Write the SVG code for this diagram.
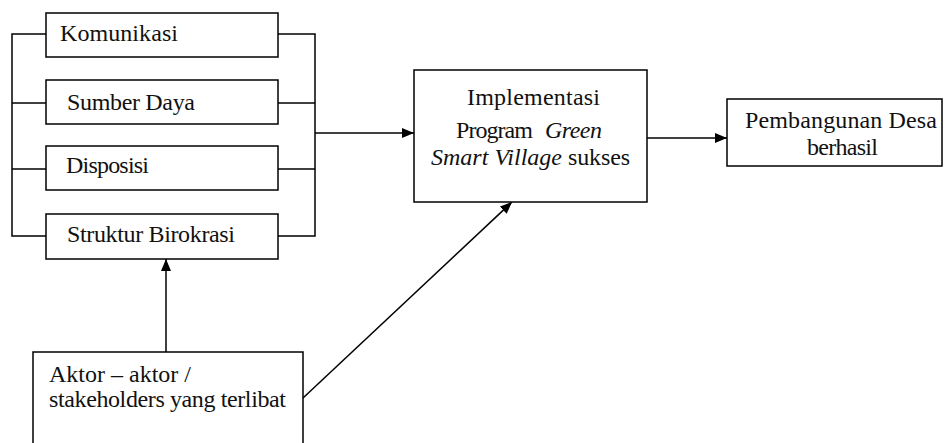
<svg xmlns="http://www.w3.org/2000/svg" width="946" height="443" viewBox="0 0 946 443">
<style>
.box{fill:#fff;stroke:#000;stroke-width:1.5}
.ln{fill:none;stroke:#000;stroke-width:1.5}
text{font-family:"Liberation Serif","Times New Roman",serif;font-size:24px;fill:#111}
.it{font-style:italic}
</style>
<defs>
<marker id="ah" viewBox="0 0 12 10" refX="12" refY="5" markerWidth="12" markerHeight="10" markerUnits="userSpaceOnUse" orient="auto">
<path d="M0,0 L12,5 L0,10 Z" fill="#000"/>
</marker>
</defs>
<rect width="946" height="443" fill="#fff"/>
<g id="connectors">
<polyline class="ln" points="46,34 12,34 12,236 46,236"/>
<line class="ln" x1="12" y1="103" x2="46" y2="103"/>
<line class="ln" x1="12" y1="169" x2="46" y2="169"/>
<polyline class="ln" points="278,34 315,34 315,236 278,236"/>
<line class="ln" x1="278" y1="103" x2="315" y2="103"/>
<line class="ln" x1="278" y1="169" x2="315" y2="169"/>
<line class="ln" x1="315" y1="133" x2="414" y2="133" marker-end="url(#ah)"/>
<line class="ln" x1="647" y1="138" x2="727" y2="138" marker-end="url(#ah)"/>
<line class="ln" x1="166" y1="352" x2="166" y2="259" marker-end="url(#ah)"/>
<line class="ln" x1="303" y1="398" x2="512" y2="202" marker-end="url(#ah)"/>
</g>
<g id="komunikasi">
<rect class="box" x="46" y="13" width="232" height="44"/>
<text x="60" y="41" textLength="118" lengthAdjust="spacing">Komunikasi</text>
</g>
<g id="sumber-daya">
<rect class="box" x="46" y="80" width="232" height="44"/>
<text x="67" y="110" textLength="128" lengthAdjust="spacing">Sumber Daya</text>
</g>
<g id="disposisi">
<rect class="box" x="46" y="146" width="232" height="44"/>
<text x="66" y="173" textLength="83" lengthAdjust="spacing">Disposisi</text>
</g>
<g id="struktur-birokrasi">
<rect class="box" x="46" y="214" width="232" height="45"/>
<text x="67" y="242" textLength="168" lengthAdjust="spacing">Struktur Birokrasi</text>
</g>
<g id="implementasi">
<rect class="box" x="414" y="70" width="233" height="132"/>
<text x="467" y="105" textLength="133" lengthAdjust="spacing">Implementasi</text>
<text x="456" y="138"><tspan textLength="77" lengthAdjust="spacing">Program</tspan><tspan class="it" x="545" textLength="57" lengthAdjust="spacing">Green</tspan></text>
<text x="431" y="165"><tspan class="it" textLength="131" lengthAdjust="spacing">Smart Village</tspan><tspan x="568" textLength="62" lengthAdjust="spacing">sukses</tspan></text>
</g>
<g id="pembangunan">
<rect class="box" x="727" y="99" width="215" height="67"/>
<text x="745" y="128" textLength="192" lengthAdjust="spacing">Pembangunan Desa</text>
<text x="807" y="155" textLength="71" lengthAdjust="spacing">berhasil</text>
</g>
<g id="aktor">
<polyline class="box" points="33,444 33,352 303,352 303,444"/>
<text x="49" y="382" textLength="142" lengthAdjust="spacing">Aktor – aktor /</text>
<text x="49" y="407" textLength="237" lengthAdjust="spacing">stakeholders yang terlibat</text>
</g>
</svg>
